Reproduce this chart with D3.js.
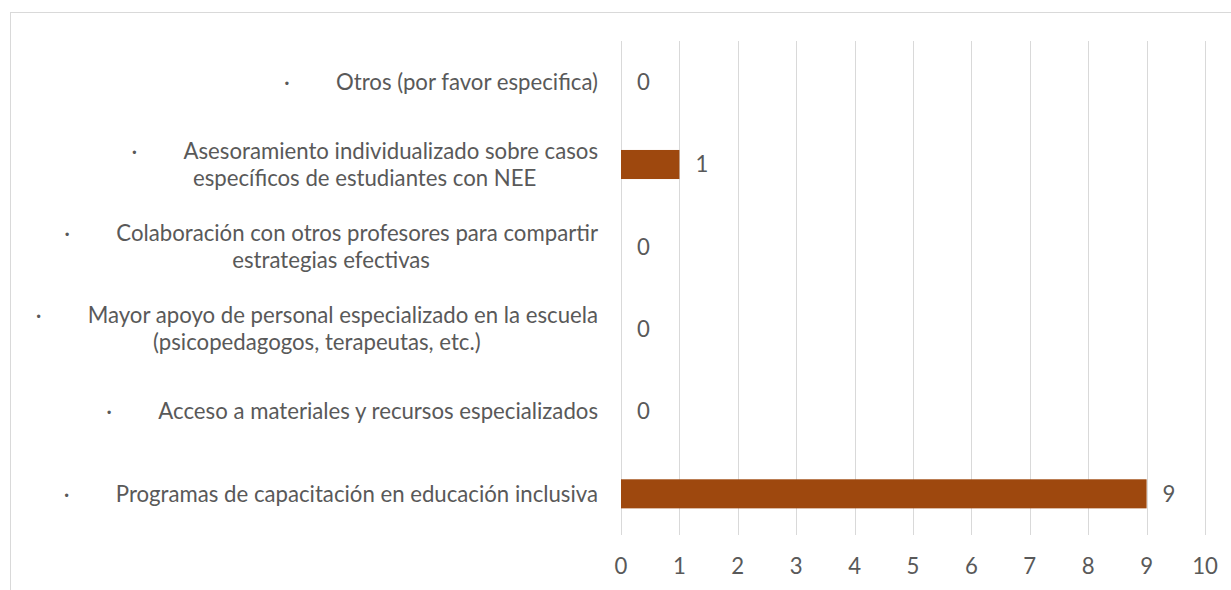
<!DOCTYPE html>
<html>
<head>
<meta charset="utf-8">
<script src="https://cdn.jsdelivr.net/npm/d3@7"></script>
<style>
  body { margin: 0; background: #fff; }
  text { font-family: Lato, "Open Sans", sans-serif; fill: #595959; }
</style>
</head>
<body>
<div id="chart"></div>
<script>
// categories, top to bottom, each one split into its lines
const categories = [
  ['Otros (por favor especifica)'],
  ['Asesoramiento individualizado sobre casos', 'específicos de estudiantes con NEE'],
  ['Colaboración con otros profesores para compartir', 'estrategias efectivas'],
  ['Mayor apoyo de personal especializado en la escuela', '(psicopedagogos, terapeutas, etc.)'],
  ['Acceso a materiales y recursos especializados'],
  ['Programas de capacitación en educación inclusiva']
];
const values = [0, 1, 0, 0, 0, 9];
const xTicks = [0, 1, 2, 3, 4, 5, 6, 7, 8, 9, 10];

const width = 1231, height = 590;
const margin = { top: 41, right: 26, bottom: 55, left: 621 };
const fontSize = 22.2;
const bulletGap = 52;
const lineGap = 27;

const svg = d3.select('#chart').append('svg')
  .attr('width', width)
  .attr('height', height);

// outer chart border (right and bottom fall outside the picture)
svg.append('rect')
  .attr('x', 10.5).attr('y', 12.5)
  .attr('width', 1400).attr('height', 800)
  .attr('fill', 'none')
  .attr('stroke', '#d9d9d9')
  .attr('stroke-width', 1);

const x = d3.scaleLinear()
  .domain([0, 10])
  .range([margin.left, width - margin.right]);

const y = d3.scaleBand()
  .domain(d3.range(categories.length))
  .range([margin.top, height - margin.bottom])
  .paddingInner(0.647)
  .paddingOuter(0.3235);

// gridlines
svg.append('g')
  .selectAll('line')
  .data(xTicks)
  .join('line')
  .attr('x1', d => Math.round(x(d)) + 0.5)
  .attr('x2', d => Math.round(x(d)) + 0.5)
  .attr('y1', margin.top)
  .attr('y2', height - margin.bottom)
  .attr('stroke', '#d9d9d9')
  .attr('stroke-width', 1);

// x tick labels
svg.append('g')
  .selectAll('text')
  .data(xTicks)
  .join('text')
  .attr('x', d => x(d))
  .attr('y', height - margin.bottom + 31)
  .attr('dy', '0.35em')
  .attr('text-anchor', 'middle')
  .style('font-size', fontSize + 'px')
  .text(d => d);

// bars
svg.append('g')
  .selectAll('rect')
  .data(values)
  .join('rect')
  .attr('x', x(0))
  .attr('y', (d, i) => y(i))
  .attr('width', d => x(d) - x(0))
  .attr('height', y.bandwidth())
  .attr('fill', '#9e480e');

// value labels
svg.append('g')
  .selectAll('text')
  .data(values)
  .join('text')
  .attr('x', d => x(d) + 16)
  .attr('y', (d, i) => y(i) + y.bandwidth() / 2)
  .attr('dy', '0.35em')
  .style('font-size', fontSize + 'px')
  .text(d => d);

// category labels: bullet + tab on the first line, lines centred on each other,
// whole block right-aligned to the axis
const labelRight = margin.left - 23;
const labels = svg.append('g');

categories.forEach((lines, i) => {
  const cy = y(i) + y.bandwidth() / 2;
  const g = labels.append('g');

  // measure each line
  const widths = lines.map((ln, k) => {
    const t = g.append('text').style('font-size', fontSize + 'px').text(ln);
    const w = t.node().getComputedTextLength() + (k === 0 ? bulletGap : 0);
    t.remove();
    return w;
  });
  const blockW = d3.max(widths);
  const centre = labelRight - blockW / 2;
  const top = cy - (lines.length - 1) * lineGap / 2;

  lines.forEach((ln, k) => {
    const left = centre - widths[k] / 2;
    const ly = top + k * lineGap;
    if (k === 0) {
      g.append('text')
        .attr('x', left)
        .attr('y', ly)
        .attr('dy', '0.35em')
        .style('font-size', fontSize + 'px')
        .text('·');
      g.append('text')
        .attr('x', left + bulletGap)
        .attr('y', ly)
        .attr('dy', '0.35em')
        .style('font-size', fontSize + 'px')
        .text(ln);
    } else {
      g.append('text')
        .attr('x', left)
        .attr('y', ly)
        .attr('dy', '0.35em')
        .style('font-size', fontSize + 'px')
        .text(ln);
    }
  });
});
</script>
</body>
</html>
